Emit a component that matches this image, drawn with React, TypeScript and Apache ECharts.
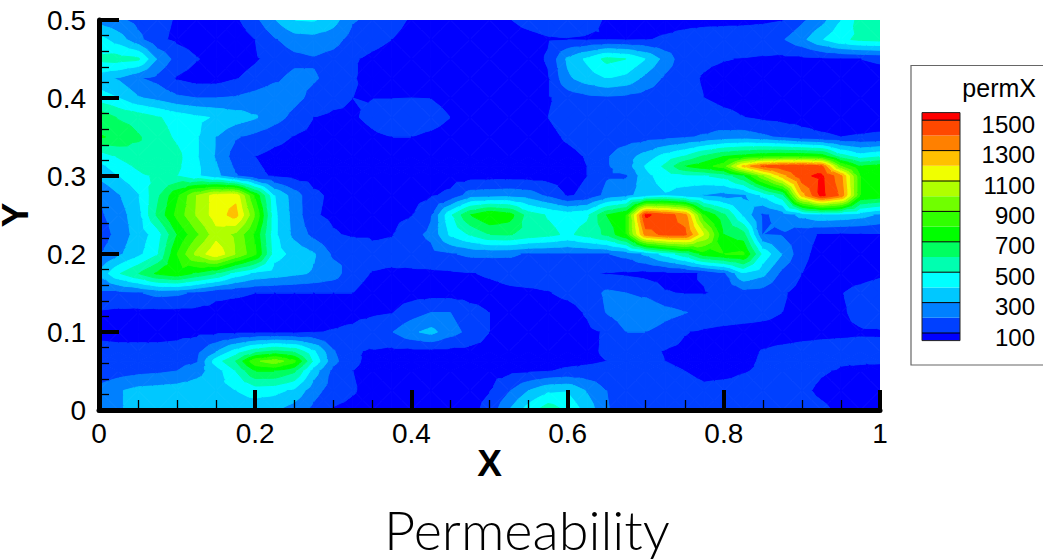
import React, { useEffect, useRef } from "react";
import * as echarts from "echarts";

// permX sampled on a mesh, listed from the top (y = 0.5) down to y = 0
const row20 = [260,220,170,130,90,70,60,80,170,300,400,410,340,210,170,130,90,70,70,70,80,95,130,150,150,130,90,70,70,70,70,70,70,70,80,95,180,260,400,540,560];
const row19 = [440,350,230,120,80,60,50,50,100,190,250,260,240,160,130,100,70,60,60,60,60,60,70,90,95,90,95,90,95,110,130,150,160,170,170,190,270,390,480,520,530];
const row18 = [530,540,520,290,160,105,70,60,90,130,170,190,160,110,80,60,55,55,55,55,55,55,60,110,320,420,530,500,400,260,130,120,105,95,85,75,75,80,90,100,110];
const row17 = [340,290,210,170,90,60,60,95,130,180,230,210,170,110,55,55,55,55,55,55,55,55,55,90,280,350,400,370,270,180,130,90,60,60,60,60,60,60,60,65,70];
const row16 = [450,400,310,270,220,200,200,210,240,270,230,170,130,100,98,98,100,98,70,60,60,60,60,90,140,170,180,170,150,140,130,100,80,75,70,70,70,70,70,70,70];
const row15 = [680,590,560,510,460,420,390,350,310,240,170,100,80,90,120,150,150,140,100,70,60,60,60,100,130,140,150,150,150,150,150,140,120,102,80,70,70,70,70,70,70];
const row14 = [710,680,610,550,480,410,300,210,170,130,95,70,60,60,85,100,100,80,60,60,60,60,60,80,110,130,150,150,160,170,190,210,240,250,220,180,130,110,100,105,110];
const row13 = [440,510,570,590,530,410,290,150,100,70,60,60,60,60,60,60,60,60,60,60,60,60,60,70,80,105,190,260,340,440,510,620,700,740,780,800,800,770,550,450,490];
const row12h = [370,450,520,600,520,420,310,180,110,80,65,60,60,60,60,60,60,60,60,60,60,60,60,60,75,100,190,250,410,520,700,760,850,1230,1420,1470,1480,1430,900,700,740];
const row12 = [320,400,470,520,500,420,330,210,120,90,70,60,60,60,60,60,60,60,60,60,60,60,60,60,70,100,190,190,370,450,470,490,530,680,980,1250,1480,1520,1330,800,750];
const row11 = [190,290,390,580,780,1000,1150,1170,780,400,250,120,80,60,60,60,60,90,120,250,260,270,250,180,90,120,230,270,350,390,340,290,260,280,420,560,1250,1530,1380,800,760];
const row10 = [180,250,360,620,830,1010,1150,1240,900,420,260,110,80,70,65,70,95,190,480,700,800,750,550,490,450,480,700,800,1520,1450,1350,800,620,380,180,240,330,380,370,340,280];
const row9 = [130,240,340,450,700,880,1060,980,780,420,270,170,110,85,85,95,170,220,420,510,600,610,560,530,480,540,620,800,1350,1430,1430,1100,700,640,200,190,130,90,80,85,100];
const row8 = [190,280,370,490,800,1030,1180,1000,820,440,370,310,180,200,130,130,150,170,190,220,220,215,190,190,190,195,195,230,320,440,560,750,800,820,470,300,120,70,70,70,70];
const row7 = [320,490,600,720,770,680,600,460,380,350,320,290,250,130,95,85,80,80,85,95,110,130,140,135,130,110,95,85,70,70,80,110,180,390,330,170,100,60,60,60,80];
const row6 = [170,170,190,230,220,180,120,110,100,100,100,100,100,100,70,60,60,60,60,65,70,80,85,95,120,140,220,200,170,105,95,95,120,160,150,110,70,60,95,130,160];
const row5 = [90,80,75,70,70,70,70,70,70,70,70,70,70,70,80,95,150,200,200,130,100,70,60,60,65,110,205,260,300,240,205,170,160,150,130,100,70,65,85,130,160];
const row4 = [75,75,75,75,75,75,75,75,75,75,75,95,105,120,170,195,280,330,240,170,100,70,60,60,60,80,110,200,200,150,105,85,70,60,60,60,70,80,85,90,90];
const row3 = [130,120,120,120,130,170,300,440,560,620,580,420,210,110,90,75,70,70,70,70,70,70,70,70,75,85,110,140,120,95,80,70,70,75,105,120,130,130,130,130,125];
const row2h = [130,130,140,150,170,190,450,600,880,960,830,480,230,120,70,70,70,70,70,70,70,70,70,70,75,85,100,130,125,100,85,75,75,80,110,125,130,125,105,105,105];
const row2 = [130,150,170,180,200,260,350,500,700,700,620,350,170,100,70,70,70,70,70,70,70,75,85,95,115,125,130,130,125,115,100,80,75,95,110,120,120,105,95,90,85];
const row1 = [230,290,330,340,350,360,370,400,440,430,380,240,150,110,60,60,60,60,60,70,95,190,300,380,390,290,200,140,130,130,130,115,130,130,130,125,110,90,80,70,70];
const row0 = [210,290,330,340,340,340,340,340,340,310,250,170,90,70,60,60,60,60,60,70,130,300,450,560,480,360,210,140,130,130,130,130,130,130,130,125,120,110,90,70,70];
const rowsTopDown = [row20,row19,row18,row17,row16,row15,row14,row13,row12h,row12,row11,row10,row9,row8,row7,row6,row5,row4,row3,row2h,row2,row1,row0];
const rowsY = [0.5,0.475,0.45,0.425,0.4,0.375,0.35,0.325,0.3125,0.3,0.275,0.25,0.225,0.2,0.175,0.15,0.125,0.1,0.075,0.0625,0.05,0.025,0];

const bandEdges = [50,100,200,300,400,500,600,700,800,900,1000,1100,1200,1300,1400,1500,1550];
const bandColors = ["#0000ff","#0040ff","#0080ff","#00c8ff","#00ffff","#00ffb0","#00ff60","#00ff00","#30ff00","#70ff00","#b0ff00","#f0ff00","#ffc000","#ff8000","#ff4800","#ff0000"];
const legendLabels = [1500,1300,1100,900,700,500,300,100];
const legendTitle = "permX";
const xTitle = "X";
const yTitle = "Y";
const chartTitle = "Permeability";
const step = 0.025;

type P = [number, number, number];

function clipAbove(poly: P[], level: number, keepAbove: boolean): P[] {
  const out: P[] = [];
  const inside = (p: P) => (keepAbove ? p[2] >= level : p[2] <= level);
  for (let k = 0; k < poly.length; k++) {
    const a = poly[k];
    const b = poly[(k + 1) % poly.length];
    const ia = inside(a);
    const ib = inside(b);
    if (ia) out.push(a);
    if (ia !== ib) {
      const t = (level - a[2]) / (b[2] - a[2]);
      out.push([a[0] + t * (b[0] - a[0]), a[1] + t * (b[1] - a[1]), level]);
    }
  }
  return out;
}

function cellData() {
  const data: number[][] = [];
  for (let r = 0; r < rowsTopDown.length - 1; r++) {
    const high = rowsTopDown[r];
    const low = rowsTopDown[r + 1];
    for (let i = 0; i < low.length - 1; i++) {
      data.push([i * step, rowsY[r + 1], (i + 1) * step, rowsY[r], low[i], low[i + 1], high[i], high[i + 1]]);
    }
  }
  return data;
}

function renderCell(_p: any, api: any) {
  const x0 = api.value(0), y0 = api.value(1), x1 = api.value(2), y1 = api.value(3);
  const v00 = api.value(4), v10 = api.value(5), v01 = api.value(6), v11 = api.value(7);
  const c: P = [(x0 + x1) / 2, (y0 + y1) / 2, (v00 + v10 + v01 + v11) / 4];
  const A: P = [x0, y0, v00], B: P = [x1, y0, v10], C: P = [x1, y1, v11], D: P = [x0, y1, v01];
  const tris: P[][] = [[A, B, c], [B, C, c], [C, D, c], [D, A, c]];
  const children: any[] = [];
  for (const tri of tris) {
    for (let b = 0; b < bandColors.length; b++) {
      const lo = b === 0 ? -1e9 : bandEdges[b];
      const hi = b === bandColors.length - 1 ? 1e9 : bandEdges[b + 1];
      let poly = clipAbove(tri, lo, true);
      if (poly.length) poly = clipAbove(poly, hi, false);
      if (poly.length < 3) continue;
      children.push({
        type: "polygon",
        shape: { points: poly.map((p) => api.coord([p[0], p[1]])) },
        style: { fill: bandColors[b], stroke: bandColors[b], lineWidth: 1, lineJoin: "round" },
      });
    }
  }
  return { type: "group", children };
}

function legendGraphics() {
  const barLeft = 922, barW = 38;
  const yOf = (v: number) => 333 - ((v - 100) / 100) * 15.2;
  const els: any[] = [
    { type: "rect", shape: { x: 911, y: 65.5, width: 140, height: 299.5 }, style: { fill: "#ffffff", stroke: "#666666", lineWidth: 1.2 } },
    { type: "text", x: 1036, y: 88, style: { text: legendTitle, fill: "#000", font: "25px 'Liberation Sans'", align: "right", verticalAlign: "middle" } },
  ];
  bandColors.forEach((col, b) => {
    const top = yOf(bandEdges[b + 1]);
    const bottom = yOf(bandEdges[b]);
    els.push({ type: "rect", shape: { x: barLeft, y: top, width: barW, height: bottom - top }, style: { fill: col } });
  });
  els.push({ type: "rect", shape: { x: barLeft, y: yOf(1550), width: barW, height: yOf(50) - yOf(1550) }, style: { fill: "none", stroke: "#222", lineWidth: 1 } });
  legendLabels.forEach((v) => {
    const y = yOf(v);
    els.push({ type: "line", shape: { x1: barLeft, y1: y, x2: barLeft + barW, y2: y }, style: { stroke: "#000", lineWidth: 1 } });
    els.push({ type: "text", x: 1035, y: y + 4, style: { text: String(v), fill: "#000", font: "24px 'Liberation Sans'", align: "right", verticalAlign: "middle" } });
  });
  return els;
}

export default function App() {
  const ref = useRef<HTMLDivElement>(null);
  useEffect(() => {
    document.body.style.margin = "0";
    const chart = echarts.init(ref.current!, undefined, { renderer: "svg" });
    const labelStyle = { color: "#000", fontSize: 28, fontFamily: "Liberation Sans" };
    chart.setOption({
      animation: false,
      backgroundColor: "#ffffff",
      title: {
        text: chartTitle,
        left: 522,
        top: 497,
        textAlign: "center",
        textStyle: { color: "#000", fontSize: 54, fontWeight: 300, fontFamily: "Lato" },
      },
      grid: { left: 99, top: 20, width: 781, height: 390, outerBoundsMode: "none" },
      xAxis: {
        type: "value", min: 0, max: 1, interval: 0.2, z: 5,
        name: xTitle, nameLocation: "middle", nameGap: 38, nameMoveOverlap: false,
        nameTextStyle: { color: "#000", fontSize: 37, lineHeight: 30, fontWeight: "bold", fontFamily: "Liberation Sans" },
        axisLine: { show: true, lineStyle: { color: "#000", width: 5 } },
        axisTick: { show: true, inside: true, length: 20, lineStyle: { color: "#000", width: 4 } },
        minorTick: { show: true, splitNumber: 4, length: 10, lineStyle: { color: "#000", width: 1.3 } },
        axisLabel: { ...labelStyle, margin: 9 },
        splitLine: { show: false },
      },
      yAxis: {
        type: "value", min: 0, max: 0.5, interval: 0.1, z: 5,
        name: yTitle, nameLocation: "middle", nameGap: 69, nameRotate: 90, nameMoveOverlap: false,
        nameTextStyle: { color: "#000", fontSize: 37, lineHeight: 30, fontWeight: "bold", fontFamily: "Liberation Sans" },
        axisLine: { show: true, lineStyle: { color: "#000", width: 5 } },
        axisTick: { show: true, inside: true, length: 20, lineStyle: { color: "#000", width: 4 } },
        minorTick: { show: true, splitNumber: 5, length: 10, lineStyle: { color: "#000", width: 1.3 } },
        axisLabel: { ...labelStyle, margin: 13 },
        splitLine: { show: false },
      },
      graphic: legendGraphics(),
      series: [{
        type: "custom",
        renderItem: renderCell,
        data: cellData(),
        encode: { x: [0, 2], y: [1, 3] },
        clip: true,
        silent: true,
        progressive: 0,
      }],
    });
    return () => chart.dispose();
  }, []);
  return <div ref={ref} style={{ width: 1043, height: 560, overflow: "hidden" }} />;
}
